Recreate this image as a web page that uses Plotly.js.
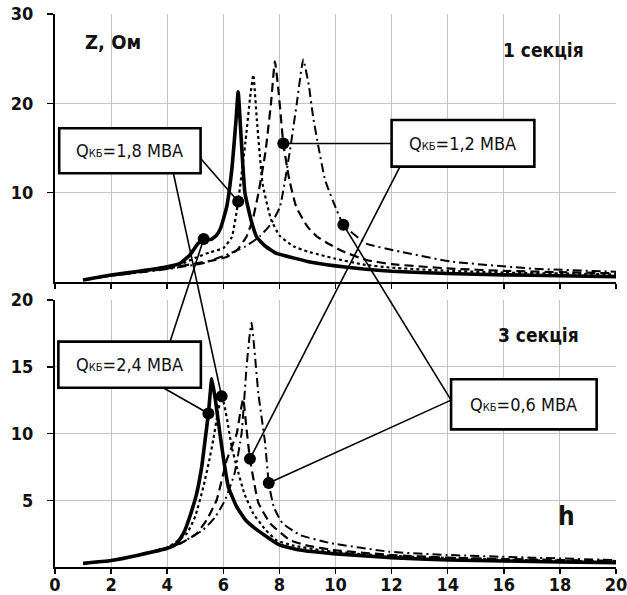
<!DOCTYPE html>
<html><head><meta charset="utf-8">
<script src="https://cdn.plot.ly/plotly-3.0.1.min.js"></script>
<style>html,body{margin:0;padding:0;background:#fff}#c{width:627px;height:595px}</style>
</head><body><div id="c"></div>
<script>
// ---- data: top panel (1 секція) ----
const top24_h = [1,2,3,4,4.46,4.8,5.1,5.3,5.55,5.75,5.9,6.12,6.3,6.45,6.53,6.62,6.77,7.0,7.2,7.5,7.9,8.5,9.0,10,11,12,14,16,18,20];
const top24_z = [0.22,0.78,1.2,1.7,2.1,3.0,4.3,4.8,4.75,5.2,6.0,8.4,12.5,18,21.3,17,10,6.8,5.0,4.0,3.2,2.7,2.3,1.8,1.45,1.2,0.95,0.8,0.7,0.6];
const top18_h = [1,2,3,4,4.5,5,5.5,6,6.3,6.53,6.8,6.95,7.07,7.2,7.4,7.7,8.0,8.5,9.0,9.5,10,11,12,14,16,18,20];
const top18_z = [0.22,0.75,1.15,1.6,2.0,2.7,3.3,3.8,5.0,9.0,16,20.5,23.2,18,11,7.0,5.2,4.0,3.4,3.0,2.6,1.95,1.6,1.25,1.05,0.95,0.85];
const top12_h = [1,2,3,4,5.05,5.6,6.12,6.5,6.83,7.05,7.25,7.5,7.7,7.84,7.98,8.14,8.35,8.6,9.0,9.33,9.8,10.28,11.1,12,14.1,16,18,20];
const top12_z = [0.22,0.7,1.1,1.5,2.1,2.4,2.8,3.6,5.1,7.0,9.9,14.5,20,24.7,21,15.5,11.5,8.4,6.2,5.1,4.2,3.4,2.46,2.0,1.5,1.25,1.1,0.97];
const top06_h = [1,2,3,4,5.28,6.24,6.8,7.3,7.7,8.02,8.38,8.62,8.85,9.05,9.2,9.4,9.63,10.04,10.28,11.1,12.3,14.1,17,20];
const top06_z = [0.22,0.7,1.05,1.45,2.1,3.2,4.0,5.1,6.5,8.4,14.8,20,24.9,22,18.5,15,11.4,8.06,6.4,4.3,3.4,2.3,1.5,1.15];
// ---- data: bottom panel (3 секція) ----
const bot24_h = [1,2,3,4,4.34,4.6,4.81,5.05,5.23,5.38,5.47,5.59,5.72,5.88,6.03,6.18,6.48,6.8,7.19,8.0,8.73,9.9,12,14,16,18,20];
const bot24_z = [0.27,0.48,0.9,1.4,1.75,2.6,3.8,5.5,7.5,10,11.5,14.1,12.5,10,7.8,6.0,4.5,3.5,2.8,1.65,1.27,1.0,0.7,0.52,0.45,0.38,0.33];
const bot18_h = [1,2,3,4,4.7,5.0,5.29,5.5,5.64,5.8,5.94,6.05,6.18,6.3,6.48,6.75,7.07,7.5,7.9,8.5,9.5,11,13,16,20];
const bot18_z = [0.27,0.48,0.9,1.45,2.5,3.8,6.0,8.0,9.5,11.5,12.8,12.0,10.5,9.0,7.5,5.5,4.0,2.8,2.0,1.6,1.25,0.95,0.75,0.55,0.4];
const bot12_h = [1,2,3,4,4.5,5.05,5.4,5.76,6.12,6.3,6.48,6.6,6.71,6.82,6.95,7.1,7.25,7.66,8.38,9.0,10,12,14,16,20];
const bot12_z = [0.27,0.48,0.9,1.45,1.8,2.5,3.5,5.0,8.0,9.0,10,11.5,12.6,10.5,8.1,6.3,4.8,3.3,2.0,1.6,1.25,0.9,0.7,0.6,0.45];
const bot06_h = [1,2,3,4,4.5,5.29,5.7,6.06,6.4,6.65,6.83,6.93,7.01,7.1,7.25,7.49,7.62,7.8,8.1,8.73,9.8,11.9,14,17,20];
const bot06_z = [0.27,0.48,0.9,1.45,1.8,2.8,3.7,5.0,7.0,10,15,17.2,18.3,16.5,13,9.3,6.3,4.5,3.3,2.4,1.8,1.15,0.9,0.7,0.52];
// ---- marked points (Q = 2.4, 1.8, 1.2, 0.6 MVA) ----
const qLabels = ['2,4','1,8','1,2','0,6'];
const markTop_h = [5.3, 6.53, 8.14, 10.28];
const markTop_z = [4.8, 9.0, 15.5, 6.4];
const markBot_h = [5.47, 5.94, 6.95, 7.62];
const markBot_z = [11.5, 12.8, 8.1, 6.3];
const xTicks = [0,2,4,6,8,10,12,14,16,18,20];

// ---- layout geometry ----
const DT = [0.5154, 1], DB = [0, 0.4828];
const RT = [0, 30], RB = [0, 20];
function py(z, panel){
  const d = panel==='t'?DT:DB, r = panel==='t'?RT:RB;
  return d[0] + (z - r[0])/(r[1]-r[0])*(d[1]-d[0]);
}
const FONT = 'Liberation Sans Narrow, Arial Narrow, DejaVu Sans Condensed, sans-serif';

const styles = [
  {width:3.6, dash:'solid'},
  {width:2.2, dash:'dot'},
  {width:2.2, dash:'9px,5px'},
  {width:2.0, dash:'9px,4px,2px,4px'}
];
function line(h, z, st, xa, ya){
  return {x:h, y:z, xaxis:xa, yaxis:ya, mode:'lines', type:'scatter',
    line:{color:'#000', width:st.width, dash:st.dash, shape:'spline', smoothing:0.4},
    hoverinfo:'skip', showlegend:false};
}
const traces = [
  line(top24_h, top24_z, styles[0], 'x', 'y'),
  line(top18_h, top18_z, styles[1], 'x', 'y'),
  line(top12_h, top12_z, styles[2], 'x', 'y'),
  line(top06_h, top06_z, styles[3], 'x', 'y'),
  line(bot24_h, bot24_z, styles[0], 'x2', 'y2'),
  line(bot18_h, bot18_z, styles[1], 'x2', 'y2'),
  line(bot12_h, bot12_z, styles[2], 'x2', 'y2'),
  line(bot06_h, bot06_z, styles[3], 'x2', 'y2'),
  {x:markTop_h, y:markTop_z, xaxis:'x', yaxis:'y', mode:'markers', type:'scatter',
   marker:{color:'#000', size:12}, showlegend:false, hoverinfo:'skip'},
  {x:markBot_h, y:markBot_z, xaxis:'x2', yaxis:'y2', mode:'markers', type:'scatter',
   marker:{color:'#000', size:12}, showlegend:false, hoverinfo:'skip'}
];

// boxes: [x0,x1,z0,z1,panel]
const boxes = {
  '1,8':[0.15,5.19,12.17,17.21,'t'],
  '1,2':[12.0,17.09,12.91,18.14,'t'],
  '2,4':[0.12,5.2,13.43,16.88,'b'],
  '0,6':[14.12,19.31,10.31,14.06,'b']
};
// leader lines: [box anchor h, z, panel] -> marker index, panel
const leaders = [
  [5.17,13.9,'t', 1,'t'],
  [4.22,12.17,'t', 1,'b'],
  [4.1,16.88,'b', 0,'t'],
  [3.86,13.43,'b', 0,'b'],
  [12.0,15.5,'t', 2,'t'],
  [12.3,12.91,'t', 2,'b'],
  [14.12,12.5,'b', 3,'t'],
  [14.12,12.5,'b', 3,'b']
];
const shapes = [];
leaders.forEach(l=>{
  const mh = l[4]==='t'?markTop_h[l[3]]:markBot_h[l[3]];
  const mz = l[4]==='t'?markTop_z[l[3]]:markBot_z[l[3]];
  shapes.push({type:'line', xref:'x', yref:'paper', x0:l[0], y0:py(l[1],l[2]), x1:mh, y1:py(mz,l[4]),
    line:{color:'#000', width:1.6}, layer:'above'});
});
const annotations = [];
Object.keys(boxes).forEach(k=>{
  const b = boxes[k];
  shapes.push({type:'rect', xref:'x', yref:'paper', x0:b[0], x1:b[1], y0:py(b[2],b[4]), y1:py(b[3],b[4]),
    line:{color:'#000', width:2.6}, fillcolor:'#fff', layer:'above'});
  annotations.push({xref:'x', yref:'paper', x:(b[0]+b[1])/2, y:(py(b[2],b[4])+py(b[3],b[4]))/2,
    text:'Q<span style="font-size:11px">КБ</span>='+k+' МВА', showarrow:false,
    font:{family:FONT, size:18, color:'#111'}, xanchor:'center', yanchor:'middle'});
});
annotations.push(
  {xref:'x', yref:'y', x:1.0, y:26.9, text:'Z, Ом', showarrow:false, xanchor:'left',
   font:{family:FONT, size:20, color:'#111', weight:'bold'}},
  {xref:'x', yref:'y', x:17.4, y:26.0, text:'1 секція', showarrow:false,
   font:{family:FONT, size:19, color:'#111', weight:'bold'}},
  {xref:'x2', yref:'y2', x:17.25, y:17.4, text:'3 секція', showarrow:false,
   font:{family:FONT, size:19, color:'#111', weight:'bold'}},
  {xref:'x2', yref:'y2', x:18.25, y:3.8, text:'h', showarrow:false,
   font:{family:FONT, size:26, color:'#111', weight:'bold'}}
);

const tickFont = {family:FONT, size:18, color:'#111', weight:'bold'};
const xBase = {range:[0,20], tickvals:xTicks, showgrid:true, gridcolor:'#c4c4c4', gridwidth:1,
  zeroline:false, showline:true, linecolor:'#000', linewidth:2, ticks:'outside', ticklen:5,
  tickwidth:1.5, tickcolor:'#000', mirror:false, fixedrange:true, ticklabeloverflow:'allow'};
const layout = {
  width:627, height:595, margin:{l:55, r:11, t:14, b:28},
  paper_bgcolor:'#fff', plot_bgcolor:'#fff', showlegend:false,
  xaxis:Object.assign({}, xBase, {anchor:'y', showticklabels:false}),
  yaxis:{domain:DT, range:RT, tickvals:[10,20,30], showgrid:true, gridcolor:'#c4c4c4',
    zeroline:false, showline:true, linecolor:'#000', linewidth:2, ticks:'outside', ticklen:6,
    tickwidth:1.5, tickcolor:'#000', tickfont:tickFont, ticklabelstandoff:10, anchor:'x'},
  xaxis2:Object.assign({}, xBase, {anchor:'y2', showticklabels:true, tickfont:tickFont, ticklabelstandoff:-5}),
  yaxis2:{domain:DB, range:RB, tickvals:[5,10,15,20], showgrid:true, gridcolor:'#c4c4c4',
    zeroline:false, showline:true, linecolor:'#000', linewidth:2, ticks:'outside', ticklen:6,
    tickwidth:1.5, tickcolor:'#000', tickfont:tickFont, ticklabelstandoff:10, anchor:'x2'},
  shapes:shapes, annotations:annotations
};
Plotly.newPlot('c', traces, layout, {staticPlot:true, displayModeBar:false});
</script></body></html>
